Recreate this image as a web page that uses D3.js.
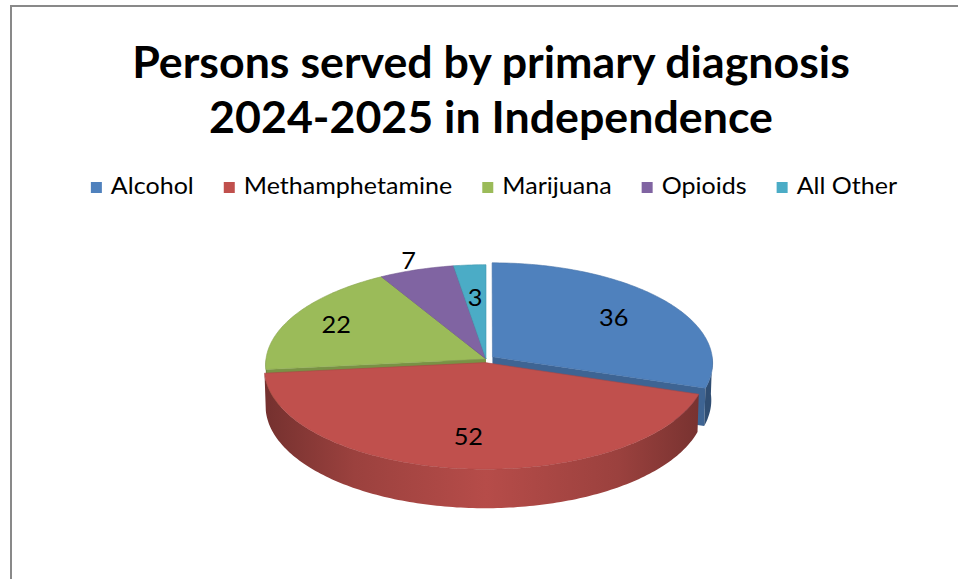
<!DOCTYPE html>
<html>
<head>
<meta charset="utf-8">
<script src="https://cdn.jsdelivr.net/npm/d3@7"></script>
<style>
  body { margin: 0; background: #fff; }
  svg { display: block; }
  text { font-family: Lato, "Open Sans", sans-serif; fill: #000; }
</style>
</head>
<body>
<svg id="chart" width="958" height="579"></svg>
<script>
const titleLines = ['Persons served by primary diagnosis', '2024-2025 in Independence'];
const categories = ['Alcohol', 'Methamphetamine', 'Marijuana', 'Opioids', 'All Other'];
const values = [36, 52, 22, 7, 3];
const colors = ['#4F81BD', '#C0504D', '#9BBB59', '#8064A2', '#4BACC6'];

// layout settings (not data)
const explode = [8, 8, 0, 0, 0];
const labelRadius = [0.7, 0.7, 0.78, 1.12, 0.65];
const pie3d = { cx: 486, cy: 359, r: 220, depth: 42, tilt: 27 * Math.PI / 180, dist: 3300 };

const svg = d3.select('#chart');

// chart border, runs off the right and bottom of the picture
svg.append('rect')
    .attr('x', 11).attr('y', 6)
    .attr('width', 1200).attr('height', 1200)
    .attr('fill', '#fff')
    .attr('stroke', '#898989')
    .attr('stroke-width', 2);

const stretched = (sel, x, y, sx) => sel.attr('transform', `translate(${x},${y}) scale(${sx},1)`);

// title
titleLines.forEach((t, i) => {
    svg.append('text')
        .attr('text-anchor', 'middle')
        .attr('font-weight', 700)
        .attr('font-size', 43)
        .text(t)
        .call(stretched, 491, 78 + i * 55, 1.04);
});

// legend, laid out from measured text widths and centred
const legendStretch = 1.09;
const legend = svg.append('g');
const items = categories.map((c, i) => {
    const g = legend.append('g');
    g.append('rect').attr('width', 11).attr('height', 11).attr('y', -12).attr('fill', colors[i]);
    const txt = g.append('text').attr('font-size', 23).text(c).call(stretched, 20, 0, legendStretch);
    const w = 20 + txt.node().getComputedTextLength() * legendStretch;
    return { g, w };
});
const legendGap = 30;
const legendWidth = d3.sum(items, d => d.w) + legendGap * (items.length - 1);
let lx = 494 - legendWidth / 2;
items.forEach((d) => {
    d.g.attr('transform', `translate(${lx},194)`);
    lx += d.w + legendGap;
});

// 3d pie
const sinT = Math.sin(pie3d.tilt);
const cosT = Math.cos(pie3d.tilt);

function project(x, z, h) {
    const v = z * sinT + h * cosT;
    const w = z * cosT - h * sinT;
    const k = pie3d.dist / (pie3d.dist + w);
    return [pie3d.cx + x * k, pie3d.cy - v * k];
}

const arcs = d3.pie().sort(null).value(d => d)(values);
const slices = arcs.map((a, i) => {
    const mid = (a.startAngle + a.endAngle) / 2;
    return {
        i,
        value: a.value,
        start: a.startAngle,
        end: a.endAngle,
        mid,
        ox: explode[i] * Math.sin(mid),
        oz: explode[i] * Math.cos(mid),
    };
});

const rimPoint = (s, t, h, r = pie3d.r) => project(s.ox + r * Math.sin(t), s.oz + r * Math.cos(t), h);
const centerPoint = (s, h) => project(s.ox, s.oz, h);
const sweep = (a0, a1) => {
    const n = Math.max(2, Math.ceil((a1 - a0) / (Math.PI / 180)));
    return d3.range(n + 1).map(j => a0 + ((a1 - a0) * j) / n);
};
const line = d3.line();

// side gradients, dark at the silhouette, lighter toward the front
const defs = svg.append('defs');
colors.forEach((c, i) => {
    const grad = defs.append('linearGradient')
        .attr('id', `side${i}`)
        .attr('gradientUnits', 'userSpaceOnUse')
        .attr('x1', pie3d.cx - pie3d.r).attr('x2', pie3d.cx + pie3d.r)
        .attr('y1', 0).attr('y2', 0);
    [[0, 1.4], [0.2, 0.6], [0.5, 0.15], [0.8, 0.6], [1, 1.4]].forEach(([o, k]) => {
        grad.append('stop').attr('offset', o).attr('stop-color', d3.color(c).darker(k));
    });
});

const pieG = svg.append('g');
const H = -pie3d.depth;

// radial cut faces that point toward the viewer
const faces = [];
slices.forEach((s) => {
    if (Math.sin(s.end) > 0.01) faces.push({ s, t: s.end });
    if (Math.sin(s.start) < -0.01) faces.push({ s, t: s.start });
});
faces.sort((a, b) => (b.s.oz + Math.cos(b.t) * pie3d.r / 2) - (a.s.oz + Math.cos(a.t) * pie3d.r / 2));
pieG.selectAll('.face')
    .data(faces)
    .enter()
    .append('path')
    .attr('class', 'face')
    .attr('d', d => `${line([centerPoint(d.s, 0), rimPoint(d.s, d.t, 0), rimPoint(d.s, d.t, H), centerPoint(d.s, H)])}Z`)
    .attr('fill', d => d3.color(colors[d.s.i]).darker(0.7));

// outer walls on the front half
const walls = slices
    .map(s => ({ s, a0: Math.max(s.start, Math.PI / 2), a1: Math.min(s.end, Math.PI * 1.5) }))
    .filter(d => d.a1 > d.a0);
walls.sort((a, b) => (b.s.oz + Math.cos((b.a0 + b.a1) / 2) * pie3d.r) - (a.s.oz + Math.cos((a.a0 + a.a1) / 2) * pie3d.r));
pieG.selectAll('.wall')
    .data(walls)
    .enter()
    .append('path')
    .attr('class', 'wall')
    .attr('d', (d) => {
        const ts = sweep(d.a0, d.a1);
        const top = ts.map(t => rimPoint(d.s, t, 0));
        const bottom = ts.slice().reverse().map(t => rimPoint(d.s, t, H));
        return `${line(top.concat(bottom))}Z`;
    })
    .attr('fill', d => `url(#side${d.s.i})`);

// top faces
pieG.selectAll('.top')
    .data(slices)
    .enter()
    .append('path')
    .attr('class', 'top')
    .attr('d', s => `${line([centerPoint(s, 0)].concat(sweep(s.start, s.end).map(t => rimPoint(s, t, 0))))}Z`)
    .attr('fill', s => colors[s.i])
    .attr('stroke', s => d3.color(colors[s.i]).darker(0.35))
    .attr('stroke-width', 0.6)
    .attr('stroke-linejoin', 'round');

// data labels
slices.forEach((s) => {
    const [x, y] = rimPoint(s, s.mid, 0, pie3d.r * labelRadius[s.i]);
    svg.append('text')
        .attr('text-anchor', 'middle')
        .attr('dominant-baseline', 'central')
        .attr('font-size', 23)
        .text(s.value)
        .call(stretched, x, y, 1.1);
});
</script>
</body>
</html>
